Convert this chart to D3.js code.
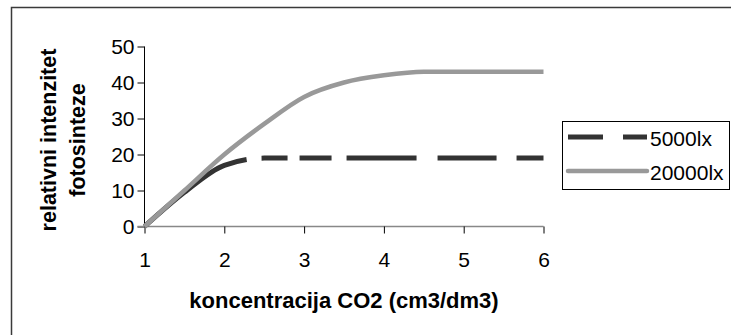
<!DOCTYPE html>
<html>
<head>
<meta charset="utf-8">
<script src="https://cdn.jsdelivr.net/npm/d3@7"></script>
<style>
  body { margin: 0; background: #fff; }
  svg text { font-family: "Liberation Sans", Arial, sans-serif; fill: #000; }
</style>
</head>
<body>
<svg id="chart" width="731" height="335"></svg>
<script>
// DATA
// x values (CO2 concentration) and the two light-intensity series
var co2 = [1, 1.5, 2, 2.5, 3, 3.5, 4, 4.5, 5, 5.5, 6];
var lx5000 = [0, 9.5, 17, 19, 19, 19, 19, 19, 19, 19, 19];
var lx20000 = [0, 10, 20, 28.5, 36, 40, 42, 43, 43, 43, 43];
var seriesNames = ["5000lx", "20000lx"];
var xTicks = [1, 2, 3, 4, 5, 6];
var yTicks = [0, 10, 20, 30, 40, 50];

var svg = d3.select("#chart");

// outer frame (runs off the right and bottom edges like the picture)
svg.append("rect")
    .attr("x", 11.5).attr("y", 7.5)
    .attr("width", 740).attr("height", 340)
    .attr("fill", "#fff")
    .attr("stroke", "#3a3a3a")
    .attr("stroke-width", 1.5);

var x = d3.scaleLinear().domain([1, 6]).range([144.5, 543.5]);
var y = d3.scaleLinear().domain([0, 50]).range([226.5, 46.5]);

// y axis
var yAxis = svg.append("g")
    .attr("transform", "translate(" + x(1) + ",0)")
    .call(d3.axisLeft(y).tickValues(yTicks).tickSize(7).tickPadding(3));
yAxis.select(".domain").attr("stroke", "#000").attr("d", "M0," + y(50) + "V" + y(0));
yAxis.selectAll("text").style("font-size", "21px");

// x axis
var xAxis = svg.append("g")
    .attr("transform", "translate(0," + y(0) + ")")
    .call(d3.axisBottom(x).tickValues(xTicks).tickFormat(d3.format("d"))
        .tickSize(7).tickPadding(19));
xAxis.select(".domain").attr("stroke", "#888").attr("stroke-width", 1.5)
    .attr("d", "M" + (x(1) - 7) + ",0H" + x(6));
xAxis.selectAll("text").style("font-size", "21px");

// axis titles
svg.append("text")
    .attr("x", (x(1) + x(6)) / 2).attr("y", 308)
    .attr("text-anchor", "middle")
    .style("font-size", "22px").style("font-weight", "bold")
    .text("koncentracija CO2 (cm3/dm3)");

var yTitle = svg.append("text")
    .attr("transform", "translate(0,140) rotate(-90)")
    .attr("text-anchor", "middle")
    .style("font-size", "21.5px").style("font-weight", "bold");
yTitle.append("tspan").attr("x", 0).attr("y", 56).text("relativni intenzitet");
yTitle.append("tspan").attr("x", 0).attr("y", 85).text("fotosinteze");

// lines
var line = d3.line()
    .x(function(d) { return x(d[0]); })
    .y(function(d) { return y(d[1]); })
    .curve(d3.curveMonotoneX);

svg.append("path")
    .datum(co2.map(function(c, i) { return [c, lx5000[i]]; }))
    .attr("d", line)
    .attr("fill", "none")
    .attr("stroke", "#333")
    .attr("stroke-width", 5)
    .attr("stroke-dasharray", "124,15,26,12,32,15,70,21,59,20,40");

svg.append("path")
    .datum(co2.map(function(c, i) { return [c, lx20000[i]]; }))
    .attr("d", line)
    .attr("fill", "none")
    .attr("stroke", "#999")
    .attr("stroke-width", 4.5);

// legend
var legend = svg.append("g");
legend.append("rect")
    .attr("x", 562.5).attr("y", 121.5)
    .attr("width", 167).attr("height", 68)
    .attr("fill", "#fff").attr("stroke", "#000");

var legendStyles = [
    { stroke: "#333", width: 5, dash: "35,20,30" },
    { stroke: "#999", width: 4.5, dash: null }
];
seriesNames.forEach(function(name, i) {
    var ly = 137 + i * 34;
    legend.append("line")
        .attr("x1", 568).attr("x2", 647)
        .attr("y1", ly).attr("y2", ly)
        .attr("stroke", legendStyles[i].stroke)
        .attr("stroke-width", legendStyles[i].width)
        .attr("stroke-linecap", i === 1 ? "round" : "butt")
        .attr("stroke-dasharray", legendStyles[i].dash);
    legend.append("text")
        .attr("x", 650).attr("y", ly + 9)
        .style("font-size", "21px")
        .text(name);
});
</script>
</body>
</html>
